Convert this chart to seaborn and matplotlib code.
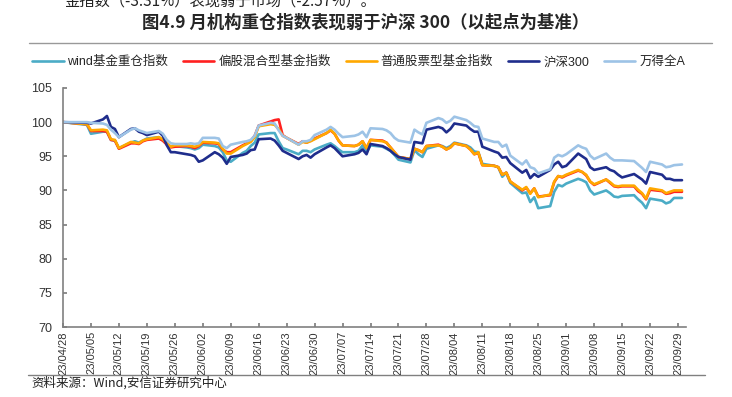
import numpy as np
import pandas as pd
import matplotlib
matplotlib.use("Agg")
import matplotlib.pyplot as plt
import seaborn as sns

# ============================================================
# Dados (base = 100 no início)
# ============================================================

datas = [
    "2023-04-28", "2023-05-04", "2023-05-05", "2023-05-08", "2023-05-09", "2023-05-10",
    "2023-05-11", "2023-05-12", "2023-05-15", "2023-05-16", "2023-05-17", "2023-05-18",
    "2023-05-19", "2023-05-22", "2023-05-23", "2023-05-24", "2023-05-25", "2023-05-26",
    "2023-05-29", "2023-05-30", "2023-05-31", "2023-06-01", "2023-06-02", "2023-06-05",
    "2023-06-06", "2023-06-07", "2023-06-08", "2023-06-09", "2023-06-12", "2023-06-13",
    "2023-06-14", "2023-06-15", "2023-06-16", "2023-06-19", "2023-06-20", "2023-06-21",
    "2023-06-22", "2023-06-23", "2023-06-26", "2023-06-27", "2023-06-28", "2023-06-29",
    "2023-06-30", "2023-07-03", "2023-07-04", "2023-07-05", "2023-07-06", "2023-07-07",
    "2023-07-10", "2023-07-11", "2023-07-12", "2023-07-13", "2023-07-14", "2023-07-17",
    "2023-07-18", "2023-07-19", "2023-07-20", "2023-07-21", "2023-07-24", "2023-07-25",
    "2023-07-26", "2023-07-27", "2023-07-28", "2023-07-31", "2023-08-01", "2023-08-02",
    "2023-08-03", "2023-08-04", "2023-08-07", "2023-08-08", "2023-08-09", "2023-08-10",
    "2023-08-11", "2023-08-14", "2023-08-15", "2023-08-16", "2023-08-17", "2023-08-18",
    "2023-08-21", "2023-08-22", "2023-08-23", "2023-08-24", "2023-08-25", "2023-08-28",
    "2023-08-29", "2023-08-30", "2023-08-31", "2023-09-01", "2023-09-04", "2023-09-05",
    "2023-09-06", "2023-09-07", "2023-09-08", "2023-09-11", "2023-09-12", "2023-09-13",
    "2023-09-14", "2023-09-15", "2023-09-18", "2023-09-19", "2023-09-20", "2023-09-21",
    "2023-09-22", "2023-09-25", "2023-09-26", "2023-09-27", "2023-09-28", "2023-09-30",
]

wind_zc = [
    100, 99.6, 98.3, 98.6, 98.6, 97.4, 97.3, 96.2, 97.0, 97.2, 97.0, 97.3,
    97.6, 97.8, 97.3, 96.8, 96.4, 96.5, 96.3, 96.2, 96.0, 96.2, 96.7, 96.5,
    96.3, 95.6, 94.4, 94.2, 95.5, 95.8, 96.5, 97.0, 98.2, 98.4, 98.4, 97.2,
    96.2, 96.0, 95.3, 95.8, 95.8, 95.6, 96.0, 96.7, 96.9, 96.5, 96.0, 95.6,
    95.6, 95.8, 96.6, 95.6, 96.6, 96.4, 96.1, 95.8, 95.2, 94.5, 94.1, 95.9,
    95.3, 94.9, 96.1, 96.6, 96.5, 96.2, 96.5, 97.0, 96.6, 96.3, 95.7, 95.6,
    93.9, 93.6, 93.4, 92.0, 92.6, 91.1, 89.6, 89.7, 88.3, 89.0, 87.4, 87.7,
    89.8, 90.8, 90.6, 91.0, 91.7, 91.5, 91.2, 90.0, 89.4, 90.0, 89.6, 89.1,
    89.0, 89.2, 89.3, 88.7, 88.2, 87.4, 88.8, 88.5, 88.1, 88.3, 88.9, 88.9,
]

pian_gu = [
    100, 99.7, 98.7, 98.7, 98.6, 97.4, 97.3, 96.1, 96.9, 96.9, 96.8, 97.2,
    97.4, 97.6, 97.3, 96.7, 96.3, 96.4, 96.5, 96.4, 96.2, 96.5, 97.0, 96.9,
    96.8, 96.0, 95.6, 95.6, 96.6, 96.9, 97.2, 98.0, 99.5, 100.1, 100.3, 100.4,
    98.1, 97.7, 96.8, 97.2, 97.0, 97.3, 97.6, 98.4, 98.8, 98.3, 97.3, 96.6,
    96.5, 96.7, 97.2, 96.2, 97.4, 97.3, 97.0, 96.3, 95.6, 94.9, 94.6, 96.1,
    95.9, 95.6, 96.5, 96.7, 96.4, 96.0, 96.3, 96.9, 96.5, 96.0, 95.3, 95.5,
    93.7, 93.6, 93.4, 92.3, 92.6, 91.3, 90.0, 90.4, 89.6, 90.3, 89.1, 89.3,
    91.2, 92.1, 91.9, 92.2, 92.9, 92.7, 92.2, 91.3, 90.8, 91.6, 91.1, 90.6,
    90.5, 90.6, 90.6, 89.9, 89.5, 88.7, 90.1, 89.9, 89.5, 89.6, 89.8, 89.8,
]

pu_tong = [
    100, 99.7, 98.8, 98.9, 98.8, 97.5, 97.4, 96.2, 97.1, 97.0, 96.9, 97.3,
    97.5, 97.8, 97.5, 96.9, 96.4, 96.6, 96.6, 96.5, 96.4, 96.6, 97.1, 97.0,
    96.9, 96.1, 95.4, 95.4, 96.5, 96.8, 97.1, 97.8, 99.4, 99.7, 99.6, 99.0,
    98.0, 97.7, 96.7, 97.1, 97.0, 97.2, 97.5, 98.4, 98.9, 98.3, 97.3, 96.6,
    96.5, 96.7, 97.2, 96.2, 97.4, 97.2, 97.0, 96.3, 95.6, 94.9, 94.6, 96.1,
    95.9, 95.6, 96.5, 96.6, 96.4, 96.0, 96.3, 96.9, 96.5, 96.0, 95.3, 95.6,
    93.7, 93.6, 93.4, 92.3, 92.6, 91.3, 90.1, 90.5, 89.5, 90.3, 89.0, 89.4,
    91.3, 92.1, 92.0, 92.3, 93.0, 92.7, 92.3, 91.3, 90.9, 91.6, 91.2, 90.7,
    90.6, 90.7, 90.7, 90.1, 89.6, 88.8, 90.3, 90.0, 89.6, 89.8, 90.0, 90.0,
]

hs300 = [
    100, 99.9, 99.8, 100.4, 100.9, 99.3, 99.0, 97.8, 99.0, 99.1, 98.6, 98.4,
    98.1, 98.6, 98.0, 96.6, 95.6, 95.6, 95.3, 95.2, 95.0, 94.2, 94.4, 95.6,
    95.3, 94.8, 93.9, 94.9, 95.2, 95.4, 95.9, 96.0, 97.5, 97.6, 97.3, 96.6,
    95.8, 95.5, 94.6, 95.0, 95.2, 94.8, 95.3, 96.3, 96.6, 96.2, 95.6, 95.0,
    95.3, 95.5, 96.0, 95.3, 96.8, 96.5, 96.2, 95.8, 95.3, 94.9, 94.5, 97.1,
    97.0, 96.9, 98.9, 99.3, 99.1, 98.5, 99.0, 99.8, 99.5, 99.0, 98.6, 98.6,
    96.4, 95.7, 95.5, 94.8, 94.9, 94.0, 92.6, 93.0, 91.8, 92.4, 92.0, 93.0,
    93.8, 94.2, 93.4, 93.6, 95.4, 95.0, 94.6, 93.4, 93.0, 93.4, 93.0, 92.8,
    92.3, 91.9, 92.4, 92.0, 91.6, 91.0, 92.7, 92.3, 91.7, 91.7, 91.5, 91.5,
]

wande_qa = [
    100, 100.0, 99.9, 99.8, 99.6, 98.9, 98.4, 97.8, 98.9, 99.1, 98.8, 98.6,
    98.4, 98.7, 98.3, 97.4, 96.9, 96.8, 96.8, 96.9, 96.8, 96.9, 97.7, 97.7,
    97.6, 96.5, 96.2, 96.7, 97.1, 97.2, 97.4, 98.0, 99.5, 99.9, 99.8, 98.8,
    98.0, 97.7, 96.7, 97.2, 97.2, 97.4, 98.1, 98.9, 99.3, 98.9, 98.3, 97.8,
    98.0, 98.2, 98.6, 97.8, 99.1, 99.0, 98.8, 98.4, 97.7, 97.3, 97.0, 98.9,
    98.5, 98.2, 99.9, 100.6, 100.4, 99.9, 100.2, 100.8, 100.3, 99.9, 99.4, 99.3,
    97.6, 97.1, 97.1, 96.4, 96.7, 95.1, 93.8, 94.4, 93.4, 93.2, 92.5, 93.1,
    94.8, 95.2, 95.0, 95.3, 96.6, 96.3, 96.1, 95.1, 94.6, 95.4, 94.8, 94.4,
    94.4, 94.4, 94.3, 93.8, 93.3, 92.7, 94.2, 93.8, 93.4, 93.5, 93.7, 93.8,
]

nomes = ["wind基金重仓指数", "偏股混合型基金指数", "普通股票型基金指数", "沪深300", "万得全A"]
cores = ["#4BACC6", "#FF2020", "#FFA800", "#1F2D8C", "#9DC3E6"]

# tabela longa para o seaborn
series = [wind_zc, pian_gu, pu_tong, hs300, wande_qa]
df = pd.concat(
    [pd.DataFrame({"data": pd.to_datetime(datas), "valor": v, "indice": n})
     for n, v in zip(nomes, series)],
    ignore_index=True,
)

# ============================================================
# Estilo
# ============================================================

sns.set_theme(style="white")
plt.rcParams["font.family"] = ["Liberation Sans", "Noto Sans CJK SC", "DejaVu Sans"]
cinza = "#808080"

fig = plt.figure(figsize=(7.32, 3.97), dpi=100)
ax = fig.add_axes([63 / 732, 1 - 327 / 397, (686 - 63) / 732, (327 - 88) / 397])

sns.lineplot(
    data=df, x="data", y="valor", hue="indice", hue_order=nomes,
    palette=cores, linewidth=1.9, ax=ax,
)

# ============================================================
# Eixos
# ============================================================

ax.set_ylim(70, 105)
ax.set_yticks(np.arange(70, 106, 5))
ax.set_xlim(pd.Timestamp("2023-04-28"), pd.Timestamp("2023-10-01"))

semanas = pd.date_range("2023-04-28", "2023-09-29", freq="7D")
ax.set_xticks(semanas)
ax.set_xticklabels([d.strftime("%y/%m/%d") for d in semanas], rotation=90,
                   family=["Liberation Sans Narrow", "Liberation Sans"], fontsize=8)
ax.set_xlabel("")
ax.set_ylabel("")

for lado in ["top", "right"]:
    ax.spines[lado].set_visible(False)
for lado in ["left", "bottom"]:
    ax.spines[lado].set_color(cinza)
    ax.spines[lado].set_linewidth(1.2)

ax.tick_params(axis="y", direction="in", length=3, color=cinza, labelsize=9,
               labelcolor="#333333", pad=8)
ax.tick_params(axis="x", direction="in", length=3, color=cinza, labelcolor="#333333", pad=3)
ax.tick_params(left=True, bottom=True)

# legenda
handles, labels = ax.get_legend_handles_labels()
ax.legend(handles, labels, loc="center", bbox_to_anchor=(0.49, 1 - 62 / 397),
          bbox_transform=fig.transFigure, ncol=5, frameon=False, fontsize=9,
          handlelength=2.5, handletextpad=0.3, columnspacing=1.2)

# ============================================================
# Textos em volta
# ============================================================

fig.text(65 / 732, 1 - 1 / 397, "金指数（-3.31%）表现弱于市场（-2.57%）。",
         fontsize=11, va="center", ha="left", color="#222222",
         family=["Noto Sans CJK SC", "DejaVu Sans"])

fig.text(0.5, 1 - 23 / 397, "图4.9 月机构重仓指数表现弱于沪深 300（以起点为基准）",
         fontsize=12.5, fontweight="bold", ha="center", va="center",
         family=["Noto Sans CJK SC", "DejaVu Sans"])

fig.add_artist(plt.Line2D([29 / 732, 712 / 732], [1 - 43 / 397, 1 - 43 / 397],
                          color="#999999", linewidth=1.0))
fig.add_artist(plt.Line2D([28 / 732, 705 / 732], [1 - 375 / 397, 1 - 375 / 397],
                          color="#808080", linewidth=1.0))

fig.text(31 / 732, 1 - 383 / 397, "资料来源：Wind,安信证券研究中心",
         fontsize=9, ha="left", va="center", color="#222222", style="italic",
         family=["Noto Sans CJK SC", "DejaVu Sans"])

fig.savefig("out.png", dpi=100)
